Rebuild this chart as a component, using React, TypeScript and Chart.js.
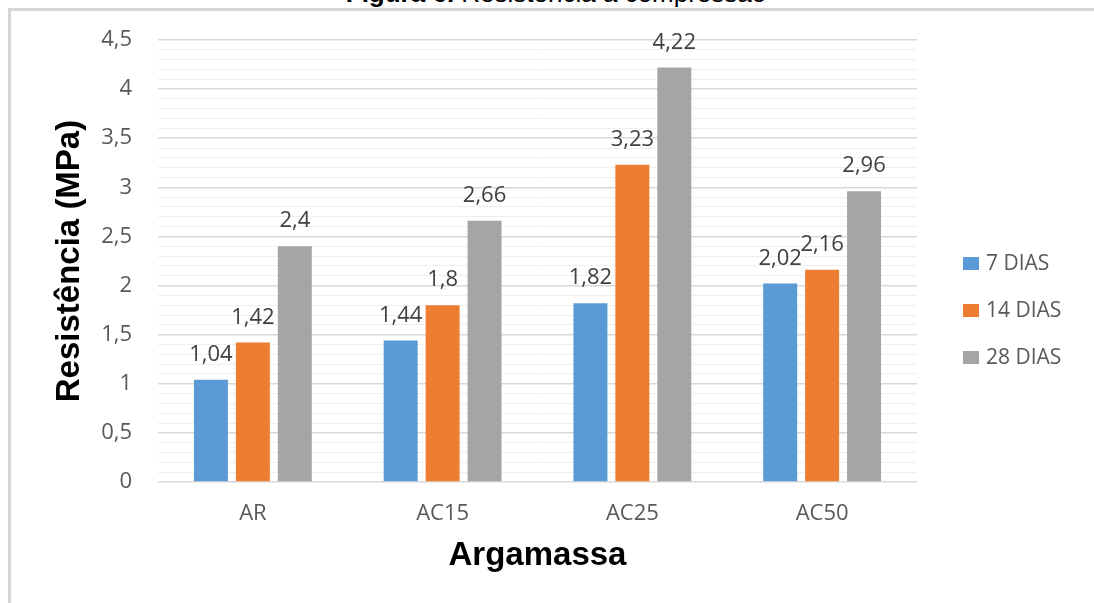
import React, { useEffect, useRef } from "react";
import { Chart, registerables } from "chart.js";

Chart.register(...registerables);

const categories = ["AR", "AC15", "AC25", "AC50"];
const seriesNames = ["7 DIAS", "14 DIAS", "28 DIAS"];
const values7Dias = [1.04, 1.44, 1.82, 2.02];
const values14Dias = [1.42, 1.8, 3.23, 2.16];
const values28Dias = [2.4, 2.66, 4.22, 2.96];
const seriesColors = ["#5b9bd5", "#ed7d31", "#a5a5a5"];
const yMin = 0;
const yMax = 4.5;
const yMinorStep = 0.1;
const yAxisTitle = "Resistência (MPa)";
const xAxisTitle = "Argamassa";
const figureTitleBold = "Figura 6.";
const figureTitleRest = " Resistência à compressão";

const fmt = (v: number) => String(v).replace(".", ",");
const isMajor = (v: number) => Math.round(v * 10) % 5 === 0;

const TICK_FONT = "'Open Sans', 'DejaVu Sans', sans-serif";
const TITLE_FONT = "'Liberation Sans', Arial, sans-serif";

const dataLabelPlugin = {
  id: "dataLabels",
  afterDatasetsDraw(chart: any) {
    const ctx = chart.ctx;
    ctx.save();
    ctx.font = `22px ${TICK_FONT}`;
    ctx.fillStyle = "#404040";
    ctx.textAlign = "center";
    ctx.textBaseline = "alphabetic";
    chart.data.datasets.forEach((ds: any, i: number) => {
      const meta = chart.getDatasetMeta(i);
      meta.data.forEach((el: any, j: number) => {
        ctx.fillText(fmt(ds.data[j]), el.x, el.y - 19);
      });
    });
    ctx.restore();
  },
};

const sideLegendPlugin = {
  id: "sideLegend",
  afterDraw(chart: any) {
    const ctx = chart.ctx;
    const area = chart.chartArea;
    const boxX = area.right + 46;
    const textX = boxX + 23;
    const midY = (area.top + area.bottom) / 2 + 49;
    const gap = 47;
    ctx.save();
    ctx.font = `21px ${TICK_FONT}`;
    ctx.textAlign = "left";
    ctx.textBaseline = "middle";
    chart.data.datasets.forEach((ds: any, i: number) => {
      const cy = midY + (i - 1) * gap;
      ctx.fillStyle = ds.backgroundColor;
      ctx.fillRect(boxX, cy - 6, 16, 13);
      ctx.fillStyle = "#595959";
      ctx.fillText(ds.label, textX, cy + 1);
    });
    ctx.restore();
  },
};

export default function App() {
  const canvasRef = useRef<HTMLCanvasElement | null>(null);

  useEffect(() => {
    if (!canvasRef.current) return;
    const seriesValues = [values7Dias, values14Dias, values28Dias];
    const chart = new Chart(canvasRef.current, {
      type: "bar",
      data: {
        labels: categories,
        datasets: seriesNames.map((name, i) => ({
          label: name,
          data: seriesValues[i],
          backgroundColor: seriesColors[i],
          borderWidth: 0,
          categoryPercentage: 0.663,
          barPercentage: 0.81,
        })),
      },
      options: {
        animation: false,
        responsive: true,
        maintainAspectRatio: false,
        layout: { padding: { top: 40, right: 177, left: 0, bottom: 0 } },
        plugins: {
          legend: { display: false },
          tooltip: { enabled: false },
          title: { display: false },
        },
        scales: {
          x: {
            grid: { display: false, drawTicks: false },
            border: { display: false },
            ticks: {
              color: "#595959",
              font: { family: TICK_FONT, size: 22 },
              padding: 19,
            },
            title: {
              display: true,
              text: xAxisTitle,
              color: "#000000",
              font: { family: TITLE_FONT, size: 33, weight: "bold" },
              padding: { top: 0, bottom: 27 },
            },
            afterFit: (scale: any) => {
              scale.height = 121;
            },
          },
          y: {
            min: yMin,
            max: yMax,
            grid: {
              drawTicks: false,
              color: (c: any) => (isMajor(c.tick.value) ? "#d9d9d9" : "#efefef"),
              lineWidth: (c: any) => (isMajor(c.tick.value) ? 1.5 : 1),
            },
            border: { display: false },
            ticks: {
              stepSize: yMinorStep,
              autoSkip: false,
              maxTicksLimit: 100,
              padding: 26,
              color: "#595959",
              font: { family: TICK_FONT, size: 22 },
              callback: (v: any) => {
                const n = Number(v);
                return isMajor(n) ? fmt(Math.round(n * 10) / 10) : "";
              },
            },
            title: {
              display: true,
              text: yAxisTitle,
              color: "#000000",
              font: { family: TITLE_FONT, size: 33, weight: "bold" },
              padding: { top: 50, bottom: 0 },
            },
            afterFit: (scale: any) => {
              scale.width = 158;
            },
          },
        },
      },
      plugins: [dataLabelPlugin, sideLegendPlugin],
    });
    return () => chart.destroy();
  }, []);

  return (
    <div
      style={{
        position: "absolute",
        left: 0,
        top: 0,
        width: 1094,
        height: 603,
        overflow: "hidden",
        background: "#ffffff",
      }}
    >
      <div
        style={{
          position: "absolute",
          left: 0,
          width: 1112,
          top: -20,
          textAlign: "center",
          fontFamily: TITLE_FONT,
          fontSize: 26,
          lineHeight: "26px",
          color: "#000",
          whiteSpace: "nowrap",
        }}
      >
        <b>{figureTitleBold}</b>
        {figureTitleRest}
      </div>
      <div
        style={{
          position: "absolute",
          left: 8,
          top: 8,
          width: 1200,
          height: 700,
          borderLeft: "3px solid #d6d6d6",
          borderTop: "3px solid #d6d6d6",
        }}
      />
      <div style={{ position: "absolute", left: 0, top: 0, width: 1094, height: 603 }}>
        <canvas ref={canvasRef} />
      </div>
    </div>
  );
}
